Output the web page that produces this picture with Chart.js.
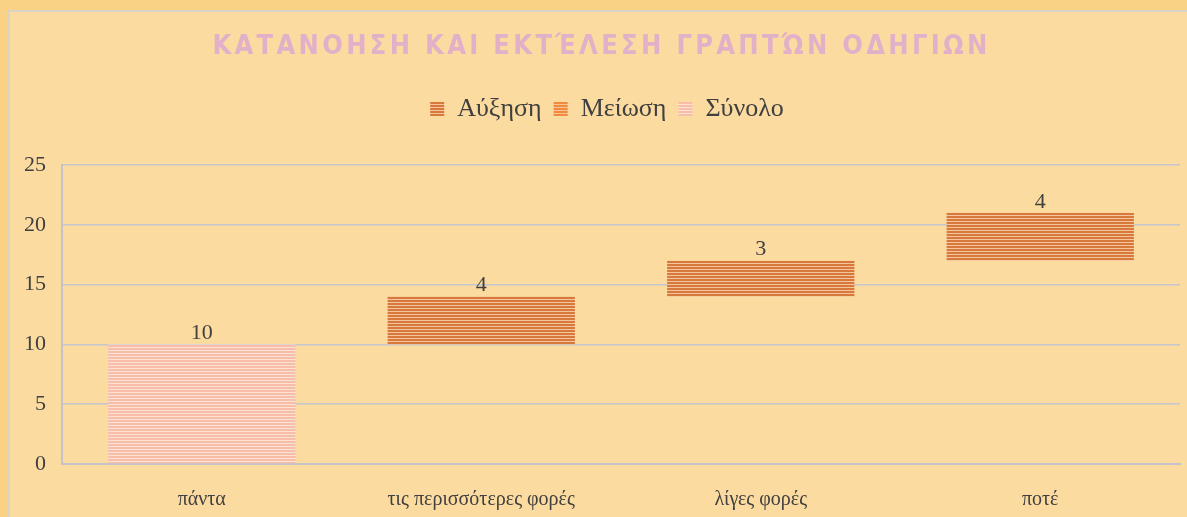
<!DOCTYPE html>
<html>
<head>
<meta charset="utf-8">
<script src="https://cdn.jsdelivr.net/npm/chart.js@4"></script>
<style>
  html, body { margin: 0; padding: 0; background: #fad285; overflow: hidden; }
  #frame {
    position: absolute; left: 8px; top: 10px;
    width: 1177px; height: 505px;
    border-left: 2px solid #d9d4c6; border-top: 2px solid #d9d4c6;
    background: #fbdb9f;
  }
</style>
</head>
<body>
<div id="frame"><canvas id="waterfall" width="1177" height="505"></canvas></div>
<script>
const titleText = "ΚΑΤΑΝΟΗΣΗ ΚΑΙ ΕΚΤΈΛΕΣΗ ΓΡΑΠΤΏΝ ΟΔΗΓΙΩΝ";
const categories = ["πάντα", "τις περισσότερες φορές", "λίγες φορές", "ποτέ"];
// floating ranges [start, end]
const increase = [null, [10, 14], [14, 17], [17, 21]];
const decrease = [null, null, null, null];
const total = [[0, 10], null, null, null];
const yTicks = [0, 5, 10, 15, 20, 25];

const textColor = "#404040";
const serif = "'Liberation Serif', 'Times New Roman', serif";

function stripes(dark, light) {
  const c = document.createElement("canvas");
  c.width = 4;
  c.height = 3;
  const g = c.getContext("2d");
  g.fillStyle = dark;
  g.fillRect(0, 0, 4, 2);
  g.fillStyle = light;
  g.fillRect(0, 2, 4, 1);
  return g.createPattern(c, "repeat");
}

const upFill = stripes("#d8783a", "#f3c6a0");
const downFill = stripes("#ef8a3e", "#f8c493");
const totalFill = stripes("#f8bda9", "#fde3d4");

// title with wide letter spacing
const spacedTitle = {
  id: "spacedTitle",
  afterDraw(chart) {
    const ctx = chart.ctx;
    ctx.save();
    ctx.font = "bold 27px 'DejaVu Sans Condensed', 'DejaVu Sans', sans-serif";
    ctx.letterSpacing = "3.3px";
    ctx.fillStyle = "#e2b1c9";
    ctx.textAlign = "center";
    ctx.textBaseline = "middle";
    ctx.fillText(titleText, chart.width / 2 + 3, 35);
    ctx.restore();
  }
};

// extra room under the legend, and legend sits a bit right of centre
const legendGap = {
  id: "legendGap",
  beforeInit(chart) {
    const fit = chart.legend.fit;
    chart.legend.fit = function () {
      fit.call(this);
      this.height += 33;
    };
  },
  afterLayout(chart) {
    chart.legend.left += 12;
    chart.legend.right += 12;
  }
};

// value labels above each bar
const barValues = {
  id: "barValues",
  afterDatasetsDraw(chart) {
    const ctx = chart.ctx;
    ctx.save();
    ctx.font = "22px " + serif;
    ctx.fillStyle = textColor;
    ctx.textAlign = "center";
    ctx.textBaseline = "middle";
    chart.data.datasets.forEach((ds, i) => {
      const meta = chart.getDatasetMeta(i);
      ds.data.forEach((v, j) => {
        if (!v) return;
        const el = meta.data[j];
        ctx.fillText(String(v[1] - v[0]), el.x, el.y - 11);
      });
    });
    ctx.restore();
  }
};

new Chart(document.getElementById("waterfall").getContext("2d"), {
  type: "bar",
  data: {
    labels: categories,
    datasets: [
      { label: "Αύξηση", data: increase, backgroundColor: upFill },
      { label: "Μείωση", data: decrease, backgroundColor: downFill },
      { label: "Σύνολο", data: total, backgroundColor: totalFill }
    ]
  },
  options: {
    responsive: false,
    animation: false,
    layout: { padding: { top: 72, left: 0, right: 7, bottom: 0 } },
    datasets: {
      bar: { grouped: false, barPercentage: 0.67, categoryPercentage: 1 }
    },
    plugins: {
      title: { display: false },
      tooltip: { enabled: false },
      legend: {
        position: "top",
        labels: {
          color: textColor,
          font: { family: serif, size: 26 },
          boxWidth: 14,
          boxHeight: 14,
          padding: 12
        }
      }
    },
    scales: {
      x: {
        grid: { display: false, drawTicks: false },
        border: { color: "#c3c4ca", width: 2 },
        ticks: { color: textColor, font: { family: serif, size: 20 }, padding: 24, maxRotation: 0 },
        afterFit(axis) { axis.height = 53; }
      },
      y: {
        min: 0,
        max: 25,
        afterBuildTicks(axis) { axis.ticks = yTicks.map(v => ({ value: v })); },
        grid: { color: "#c3c6ce", lineWidth: 1.5, drawTicks: false },
        border: { color: "#c3c4ca", width: 2 },
        ticks: { color: textColor, font: { family: serif, size: 22 }, padding: 16 },
        afterFit(axis) { axis.width = 52; }
      }
    }
  },
  plugins: [spacedTitle, legendGap, barValues]
});
</script>
</body>
</html>
